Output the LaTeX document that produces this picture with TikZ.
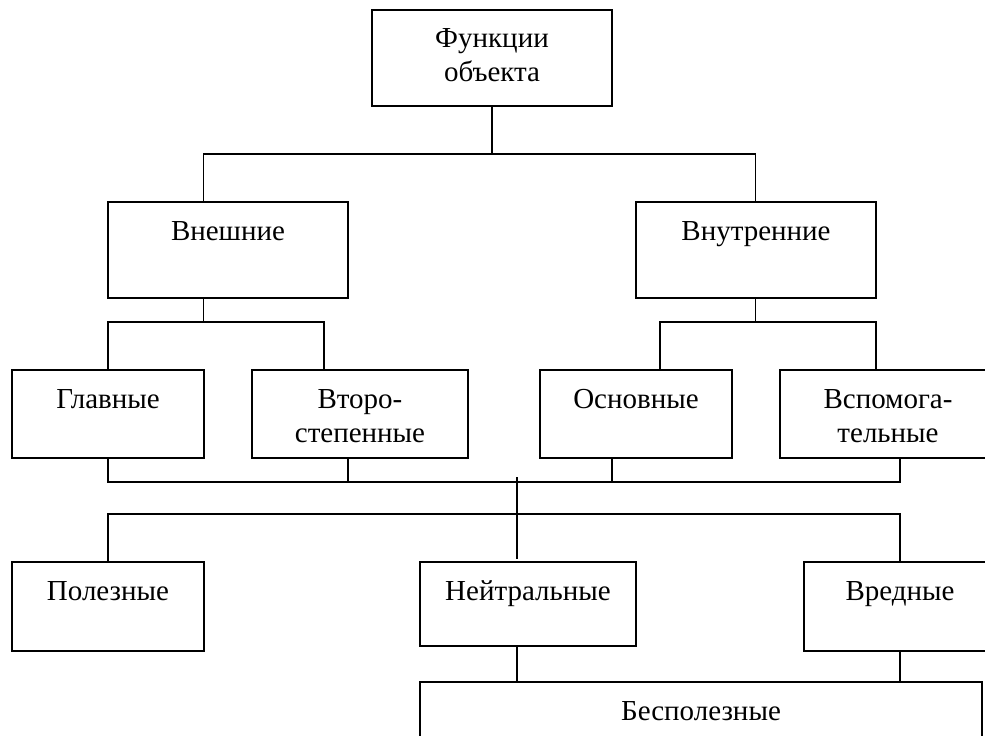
\documentclass[tikz,border=0pt]{standalone}
\usepackage{fontspec}
\setmainfont{Liberation Serif}
\begin{document}
\begin{tikzpicture}[x=1pt,y=-1pt,
  box/.style={draw, line width=1.8pt, inner sep=0pt, outer sep=0pt, anchor=north west},
  con/.style={line width=1.4pt},
  lbl/.style={anchor=base, inner sep=0pt, font=\fontsize{29}{35}\selectfont}]
\useasboundingbox (0,0) rectangle (985,736);
\begin{scope}
\clip (0,0) rectangle (985,736);
% boxes
\node[box, minimum width=240pt, minimum height=96pt] (f) at (372,10) {};
\node[box, minimum width=240pt, minimum height=96pt] (ext) at (108,202) {};
\node[box, minimum width=240pt, minimum height=96pt] (int) at (636,202) {};
\node[box, minimum width=192pt, minimum height=88pt] (glav) at (12,370) {};
\node[box, minimum width=216pt, minimum height=88pt] (vtor) at (252,370) {};
\node[box, minimum width=192pt, minimum height=88pt] (osn) at (540,370) {};
\node[box, minimum width=216pt, minimum height=88pt] (vsp) at (780,370) {};
\node[box, minimum width=192pt, minimum height=89pt] (pol) at (12,562) {};
\node[box, minimum width=216pt, minimum height=84pt] (neu) at (420,562) {};
\node[box, minimum width=192pt, minimum height=89pt] (vred) at (804,562) {};
\node[box, minimum width=562pt, minimum height=100pt] (bes) at (420,682) {};
% labels
\node[lbl] (tf1) at ([yshift=-37pt]f.north) {Функции};
\node[lbl] (tf2) at ([yshift=-71pt]f.north) {объекта};
\node[lbl] (text) at ([yshift=-38pt]ext.north) {Внешние};
\node[lbl] (tint) at ([yshift=-38pt]int.north) {Внутренние};
\node[lbl] (tglav) at ([yshift=-38pt]glav.north) {Главные};
\node[lbl] (tvt1) at ([yshift=-38pt]vtor.north) {Второ-};
\node[lbl] (tvt2) at ([yshift=-72pt]vtor.north) {степенные};
\node[lbl] (tosn) at ([yshift=-38pt]osn.north) {Основные};
\node[lbl] (tvs1) at ([yshift=-38pt]vsp.north) {Вспомога-};
\node[lbl] (tvs2) at ([yshift=-72pt]vsp.north) {тельные};
\node[lbl] (tpol) at ([yshift=-38pt]pol.north) {Полезные};
\node[lbl] (tneu) at ([yshift=-38pt]neu.north) {Нейтральные};
\node[lbl] (tvred) at ([yshift=-38pt]vred.north) {Вредные};
\node[lbl] (tbes) at ([yshift=-38pt]bes.north) {Бесполезные};
% junction coordinates
\coordinate (b1) at (492,154);
\coordinate (b1l) at (203.5,154);
\coordinate (b1r) at (755.5,154);
\coordinate (b2l) at (203.5,322);
\coordinate (b2r) at (755.5,322);
\coordinate (b3) at (517,482);
\coordinate (b3a) at (517,477);
\coordinate (b4) at (517,514);
\coordinate (b4e) at (517,559);
% connectors
\draw[con] (f.south) -- (b1);
\draw[con] (ext.north -| b1l) |- (b1r) -- (int.north -| b1r);
\draw[con] (ext.south -| b2l) -- (b2l);
\draw[con] (glav.north) |- ([xshift=72pt]vtor.north west |- b2l) -- ([xshift=72pt]vtor.north west);
\draw[con] (int.south -| b2r) -- (b2r);
\draw[con] ([xshift=120pt]osn.north west) |- ([xshift=96pt]vsp.north west |- b2r) -- ([xshift=96pt]vsp.north west);
\draw[con] (glav.south) |- (b3 -| vsp.north west) ([xshift=120pt]vsp.south west) |- (b3);
\draw[con] ([xshift=96pt]vtor.south west) -- ([xshift=96pt]vtor.south west |- b3);
\draw[con] ([xshift=72pt]osn.south west) -- ([xshift=72pt]osn.south west |- b3);
\draw[con] (b3a) -- (b4e);
\draw[con] (pol.north) |- (b4) -| (vred.north);
\draw[con] (neu.south -| b3) -- (bes.north -| b3);
\draw[con] (vred.south) -- (bes.north -| vred.south);
\end{scope}
\end{tikzpicture}
\end{document}
